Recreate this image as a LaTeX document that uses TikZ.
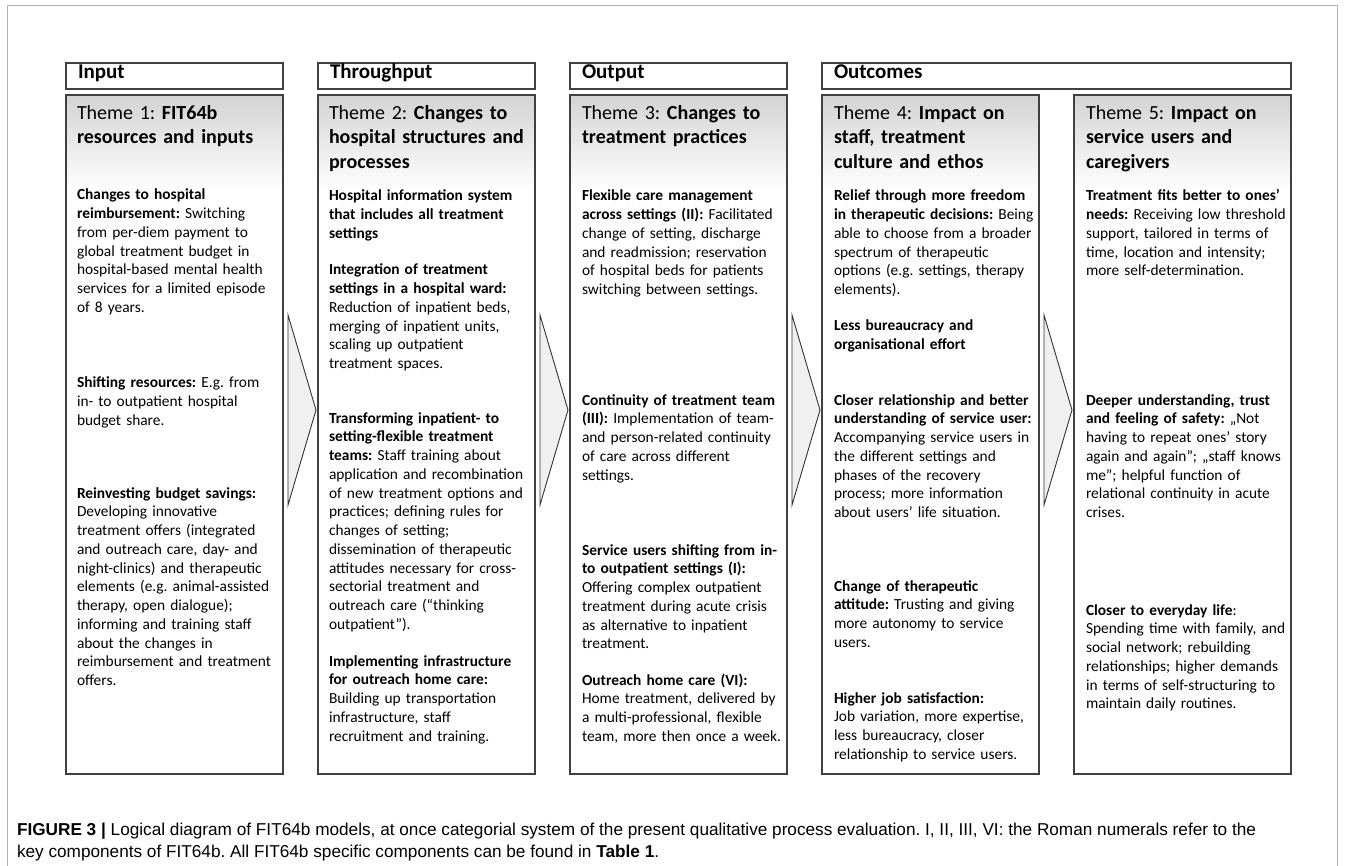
\documentclass[tikz,border=0pt]{standalone}
\usepackage{fontspec}
\setmainfont{Carlito}
\newfontfamily\capfont{Liberation Sans}
\usetikzlibrary{positioning}
\frenchspacing

\begin{document}
\begin{tikzpicture}[x=1pt,y=-1pt,node distance=35pt,
  every node/.style={inner sep=0pt,outer sep=0pt},
  stage/.style={draw=black!75,line width=1.2pt,minimum width=217pt,minimum height=26pt},
  stagetext/.style={anchor=base west,font=\fontsize{21}{25}\selectfont\bfseries},
  theme/.style={draw=black!75,line width=1.2pt,minimum width=217pt,minimum height=679pt},
  fade/.style={top color=black!17,bottom color=white},
  themehead/.style={anchor=base west,text width=210pt,align=left,font=\fontsize{20}{24.5}\selectfont},
  item/.style={anchor=base west,text width=215pt,align=left,font=\fontsize{15.4}{18.75}\selectfont},
  chevron/.style={draw=black!80,line width=0.9pt,fill=black!6,line join=miter},
  captext/.style={anchor=base west,font=\capfont\fontsize{17.2}{20}\selectfont}]
  \useasboundingbox (0,0) rectangle (1354,866);
  \draw[black!30,line width=1pt] (7,866) |- (1337,6) -- (1337,866);

  % grey fade at the top of each theme
  \foreach \x in {66,318,570,822,1074}
    \shade[fade] (\x,95) rectangle (\x+217,190);

  % theme boxes
  \node[theme,anchor=north west] (theme1) at (66,95) {};
  \node[theme,right=of theme1] (theme2) {};
  \node[theme,right=of theme2] (theme3) {};
  \node[theme,right=of theme3] (theme4) {};
  \node[theme,right=of theme4] (theme5) {};

  % stage headers
  \node[stage,above=6pt of theme1] (input) {};
  \node[stage,above=6pt of theme2] (through) {};
  \node[stage,above=6pt of theme3] (output) {};
  \node[stage,anchor=north west,minimum width=469pt] (outcomes) at (822,63) {};
  \node[stagetext] (input-t) at (78,79) {Input};
  \node[stagetext] (through-t) at (330,79) {Throughput};
  \node[stagetext] (output-t) at (582,79) {Output};
  \node[stagetext] (outcomes-t) at (834,79) {Outcomes};

  % arrows between the themes
  \draw[chevron] (288,315) -- (316,410) -- (288,505) -- cycle;
  \draw[chevron] (540,315) -- (568,410) -- (540,505) -- cycle;
  \draw[chevron] (792,315) -- (820,410) -- (792,505) -- cycle;
  \draw[chevron] (1044,315) -- (1072,410) -- (1044,505) -- cycle;

  % theme 1
  \node[themehead] (h1) at (77,119.5) {Theme 1: \textbf{FIT64b}\\\textbf{resources and inputs}};
  \node[item] (a1) at (77,200) {\textbf{Changes to hospital}\\\textbf{reimbursement:} Switching\\from per-diem payment to\\global treatment budget in\\hospital-based mental health\\services for a limited episode\\of 8 years.};
  \node[item] (a2) at (77,388) {\textbf{Shifting resources:} E.g. from\\in- to outpatient hospital\\budget share.};
  \node[item] (a3) at (77,498) {\textbf{Reinvesting budget savings:}\\Developing innovative\\treatment offers (integrated\\and outreach care, day- and\\night-clinics) and therapeutic\\elements (e.g. animal-assisted\\therapy, open dialogue);\\informing and training staff\\about the changes in\\reimbursement and treatment\\offers.};

  % theme 2
  \node[themehead] (h2) at (329,119.5) {Theme 2: \textbf{Changes to}\\\textbf{hospital structures and}\\\textbf{processes}};
  \node[item] (b1) at (329,201) {\textbf{Hospital information system}\\\textbf{that includes all treatment}\\\textbf{settings}};
  \node[item] (b2) at (329,275) {\textbf{Integration of treatment}\\\textbf{settings in a hospital ward:}\\Reduction of inpatient beds,\\merging of inpatient units,\\scaling up outpatient\\treatment spaces.};
  \node[item] (b3) at (329,423) {\textbf{Transforming inpatient- to}\\\textbf{setting-flexible treatment}\\\textbf{teams:} Staff training about\\application and recombination\\of new treatment options and\\practices; defining rules for\\changes of setting;\\dissemination of therapeutic\\attitudes necessary for cross-\\sectorial treatment and\\outreach care (“thinking\\outpatient”).};
  \node[item] (b4) at (329,666) {\textbf{Implementing infrastructure}\\\textbf{for outreach home care:}\\Building up transportation\\infrastructure, staff\\recruitment and training.};

  % theme 3
  \node[themehead] (h3) at (582,119.5) {Theme 3: \textbf{Changes to}\\\textbf{treatment practices}};
  \node[item] (c1) at (582,201) {\textbf{Flexible care management}\\\textbf{across settings (II):} Facilitated\\change of setting, discharge\\and readmission; reservation\\of hospital beds for patients\\switching between settings.};
  \node[item] (c2) at (582,405) {\textbf{Continuity of treatment team}\\\textbf{(III):} Implementation of team-\\and person-related continuity\\of care across different\\settings.};
  \node[item] (c3) at (582,555) {\textbf{Service users shifting from in-}\\\textbf{to outpatient settings (I):}\\Offering complex outpatient\\treatment during acute crisis\\as alternative to inpatient\\treatment.};
  \node[item] (c4) at (582,685) {\textbf{Outreach home care (VI):}\\Home treatment, delivered by\\a multi-professional, flexible\\team, more then once a week.};

  % theme 4
  \node[themehead] (h4) at (834,119.5) {Theme 4: \textbf{Impact on}\\\textbf{staff, treatment}\\\textbf{culture and ethos}};
  \node[item] (d1) at (834,201) {\textbf{Relief through more freedom}\\\textbf{in therapeutic decisions:} Being\\able to choose from a broader\\spectrum of therapeutic\\options (e.g. settings, therapy\\elements).};
  \node[item] (d2) at (834,331) {\textbf{Less bureaucracy and}\\\textbf{organisational effort}};
  \node[item] (d3) at (834,405) {\textbf{Closer relationship and better}\\\textbf{understanding of service user:}\\Accompanying service users in\\the different settings and\\phases of the recovery\\process; more information\\about users’ life situation.};
  \node[item] (d4) at (834,591) {\textbf{Change of therapeutic}\\\textbf{attitude:} Trusting and giving\\more autonomy to service\\users.};
  \node[item] (d5) at (834,703) {\textbf{Higher job satisfaction:}\\Job variation, more expertise,\\less bureaucracy, closer\\relationship to service users.};

  % theme 5
  \node[themehead] (h5) at (1086,119.5) {Theme 5: \textbf{Impact on}\\\textbf{service users and}\\\textbf{caregivers}};
  \node[item] (e1) at (1086,201) {\textbf{Treatment fits better to ones’}\\\textbf{needs:} Receiving low threshold\\support, tailored in terms of\\time, location and intensity;\\more self-determination.};
  \node[item] (e2) at (1086,405) {\textbf{Deeper understanding, trust}\\\textbf{and feeling of safety:} „Not\\having to repeat ones’ story\\again and again”; „staff knows\\me”; helpful function of\\relational continuity in acute\\crises.};
  \node[item] (e3) at (1086,615) {\textbf{Closer to everyday life}:\\Spending time with family, and\\social network; rebuilding\\relationships; higher demands\\in terms of self-structuring to\\maintain daily routines.};

  % caption
  \node[captext] (cap1) at (17,835) {\textbf{FIGURE 3 |} Logical diagram of FIT64b models, at once categorial system of the present qualitative process evaluation. I, II, III, VI: the Roman numerals refer to the};
  \node[captext] (cap2) at (17,857) {key components of FIT64b. All FIT64b specific components can be found in \textbf{Table 1}.};
\end{tikzpicture}
\end{document}
